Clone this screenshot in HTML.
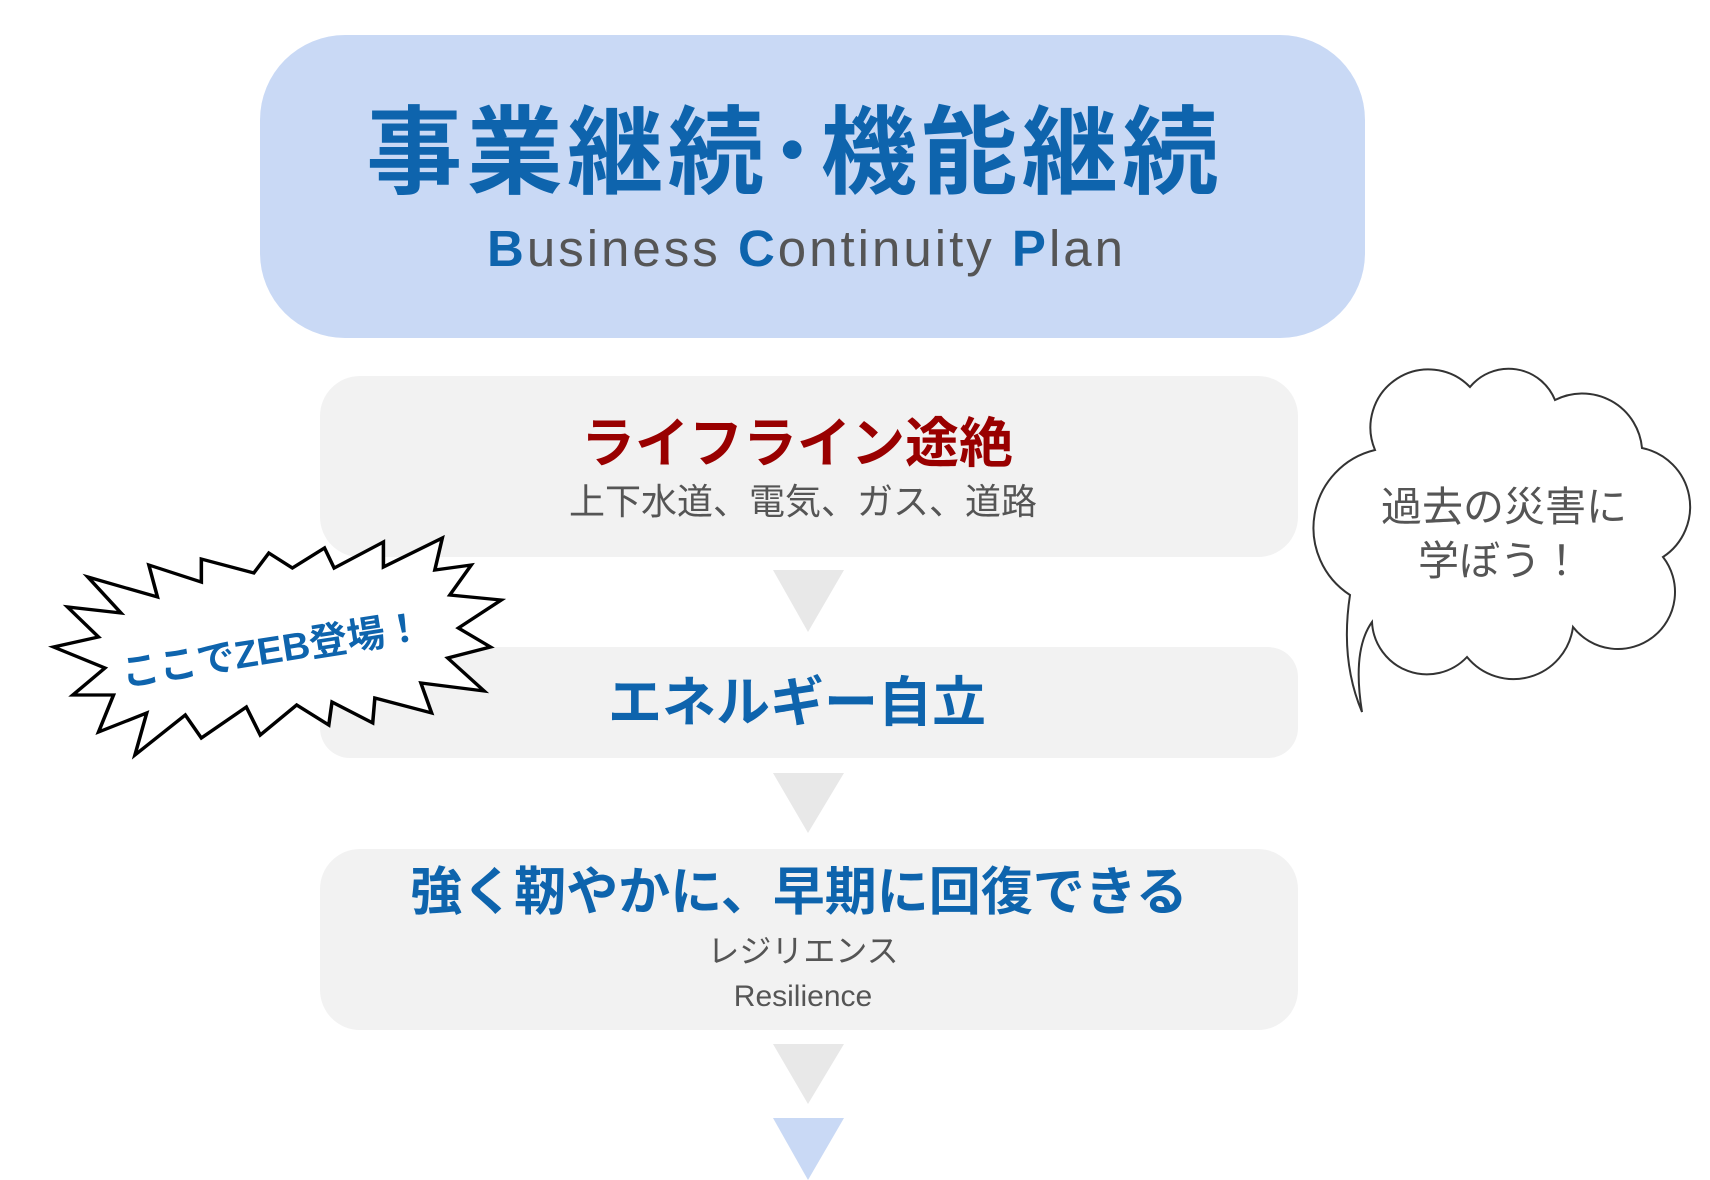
<!DOCTYPE html>
<html><head><meta charset="utf-8"><style>
body{margin:0;width:1710px;height:1180px;background:#fff;position:relative;overflow:hidden;font-family:"Liberation Sans","Noto Sans CJK JP",sans-serif}
.box{position:absolute;background:#f2f2f2;border-radius:40px}
.t{position:absolute;left:0;width:100%;text-align:center;white-space:nowrap}
</style></head><body>
<div class="box" style="left:260px;top:35px;width:1105px;height:303px;background:#c9d9f5;border-radius:85px">
 <div class="t" style="left:-18px;top:64px;font-size:96px;font-weight:bold;color:#0e64ad;letter-spacing:4.5px;line-height:110px">事業継続･機能継続</div>
 <div class="t" style="left:-6px;top:184px;font-size:51px;color:#555;line-height:60px;letter-spacing:3px"><span style="color:#0e64ad;font-weight:bold">B</span>usiness <span style="color:#0e64ad;font-weight:bold">C</span>ontinuity <span style="color:#0e64ad;font-weight:bold">P</span>lan</div>
</div>
<div class="box" style="left:320px;top:376px;width:978px;height:181px">
 <div class="t" style="left:-12px;top:36px;font-size:54px;font-weight:bold;color:#990000;line-height:64px">ライフライン途絶</div>
 <div class="t" style="left:-6px;top:104px;font-size:36px;color:#555;line-height:44px">上下水道、電気、ガス、道路</div>
</div>
<div class="box" style="left:320px;top:647px;width:978px;height:111px;border-radius:30px">
 <div class="t" style="left:-12px;top:24px;font-size:54px;font-weight:bold;color:#0e64ad;line-height:64px">エネルギー自立</div>
</div>
<div class="box" style="left:320px;top:849px;width:978px;height:181px">
 <div class="t" style="left:-10px;top:12px;font-size:52px;font-weight:bold;color:#0e64ad;line-height:64px">強く靭やかに、早期に回復できる</div>
 <div class="t" style="left:-6px;top:82px;font-size:32px;color:#555;line-height:40px">レジリエンス</div>
 <div class="t" style="left:-6px;top:130px;font-size:30px;color:#555;line-height:36px">Resilience</div>
</div>
<svg width="1710" height="1180" style="position:absolute;left:0;top:0">
 <polygon points="773,570 844,570 808,632" fill="#e8e8e8"/>
 <polygon points="773,773 844,773 808,833" fill="#e8e8e8"/>
 <polygon points="773,1044 844,1044 808,1104" fill="#e8e8e8"/>
 <polygon points="773,1118 844,1118 808,1180" fill="#c9d9f5"/>
 <g transform="matrix(1.071,0,0,1,0,0)">
 <polygon fill="#fff" stroke="#000" stroke-width="3.3" stroke-linejoin="miter" points="82,577 147,597 139,565 188,582 188,559 237,573 251,553 273,568 303,548 312,568 358,542 358,567 413,538 406,570 440,565 420,595 468,600 428,628 458,647 418,658 452,691 393,683 403,713 350,698 348,723 310,702 307,725 277,705 243,735 230,707 188,738 173,715 126,755 137,713 92,732 106,695 68,695 98,668 50,647 92,637 63,607 113,613"/>
 </g>
 <text x="272" y="663" text-anchor="middle" transform="rotate(-9 272 650)" font-size="38" font-weight="bold" fill="#0e64ad" font-family="Liberation Sans, Noto Sans CJK JP, sans-serif">ここでZEB登場！</text>
 <path fill="#fff" stroke="#333" stroke-width="2" d="M1375,450 A58,58 0 0 1 1470,387 A50,50 0 0 1 1555,400 A60,60 0 0 1 1642,448 A60,60 0 0 1 1663,557 A45,45 0 0 1 1573,627 A60,60 0 0 1 1467,657 A55,55 0 0 1 1372,622 Q1352,650 1362,712 Q1340,660 1350,595 A80,80 0 0 1 1375,450 Z"/>
 <text x="1504" y="521" text-anchor="middle" font-size="41" fill="#555" font-family="Liberation Sans, Noto Sans CJK JP, sans-serif">過去の災害に</text>
 <text x="1500" y="575" text-anchor="middle" font-size="41" fill="#555" font-family="Liberation Sans, Noto Sans CJK JP, sans-serif">学ぼう！</text>
</svg>
</body></html>
